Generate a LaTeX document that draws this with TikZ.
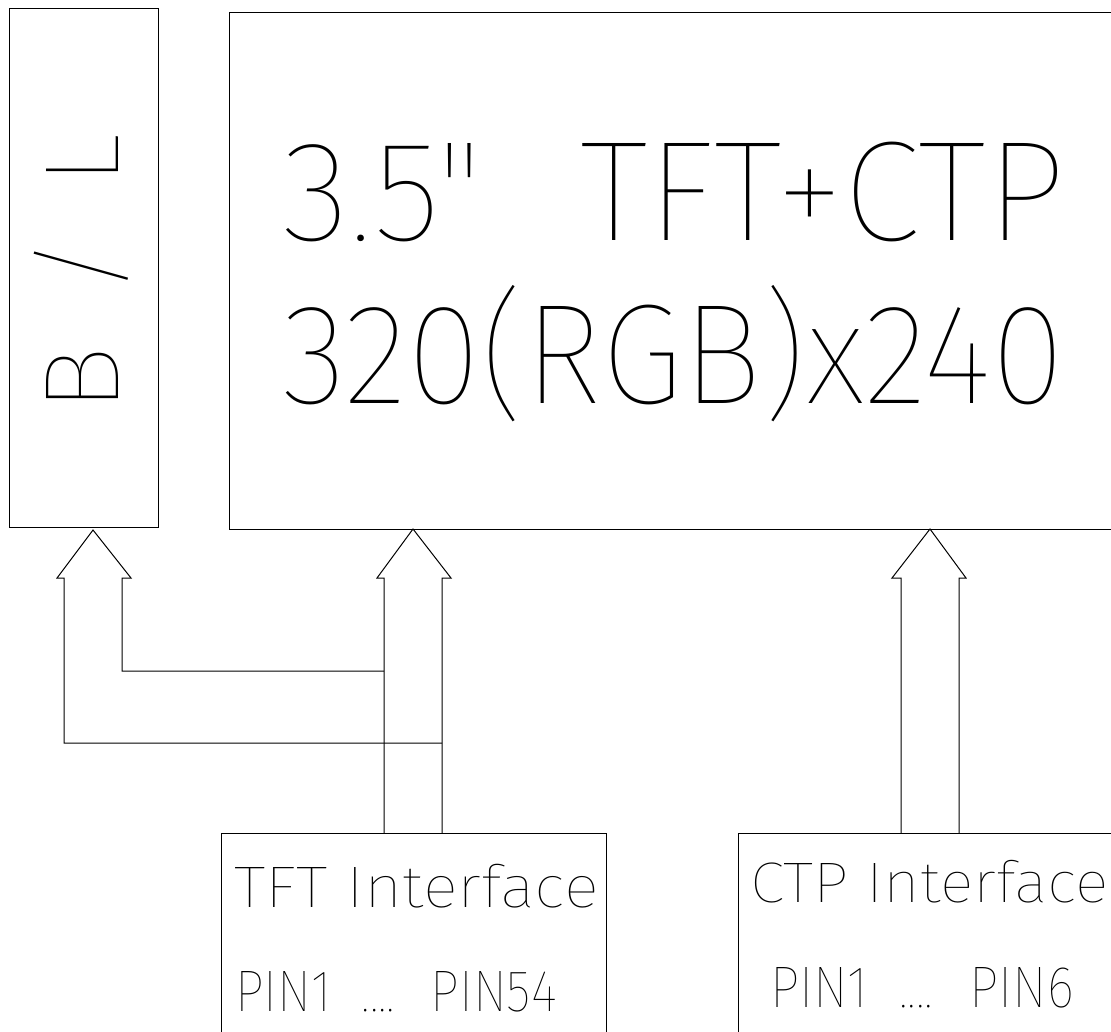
\documentclass[tikz,border=0pt]{standalone}
\usepackage{fontspec}
\IfFontExistsTF{Fira Sans Thin}{\newfontfamily\cad{Fira Sans Thin}}{%
 \IfFontExistsTF{Lato Hairline}{\newfontfamily\cad{Lato Hairline}}{%
  \IfFontExistsTF{DejaVu Sans ExtraLight}{\newfontfamily\cad{DejaVu Sans ExtraLight}}{%
   \newfontfamily\cad{lmmonolt10-regular.otf}}}}
\newsavebox\fitbox
% #1 box width, #2 cap height, #3 text
\newcommand\fitt[3]{\sbox\fitbox{\smash{#3}\rule{0pt}{\fontcharht\font`T}}\resizebox{#1}{#2}{\usebox\fitbox}}
\begin{document}
\begin{tikzpicture}[x=1pt,y=-1pt,line width=1pt,line join=miter,
  box/.style={draw,line width=1pt,inner sep=0pt,outer sep=0pt,anchor=north west},
  txt/.style={inner sep=0pt,outer sep=0pt,anchor=base west,font=\cad\fontsize{40}{40}\selectfont},
  blockarrow/.style={draw,line width=1pt}]
\clip (0,0) rectangle (1111,1032);
% boxes
\node[box,minimum width=149pt,minimum height=518pt] (bl) at (9,9) {};
\node[box,minimum width=901pt,minimum height=516pt] (main) at (229,13) {};
\node[box,minimum width=385pt,minimum height=230pt] (tft) at (221,833) {};
\node[box,minimum width=400pt,minimum height=230pt] (ctp) at (738,833) {};
% texts
\node[txt] (l1) at (282,241) {\fitt{783pt}{97pt}{3.5"\hspace{0.39em} TFT+CTP}};
\node[txt] (l2) at (282,403) {\fitt{783pt}{97pt}{320(RGB)x240}};
\node[txt,rotate=90] (bltext) at (118,412) {\fitt{278pt}{72pt}{B\hspace{0.45em}/\hspace{0.45em}L}};
\node[txt] (t1) at (234,907) {\fitt{365pt}{40pt}{TFT Interface}};
\node[txt] (t2) at (235,1011) {\fitt{322pt}{40pt}{PIN1\hspace{0.3em} ....\hspace{0.3em} PIN54}};
\node[txt] (c1) at (750,902) {\fitt{359pt}{39pt}{CTP Interface}};
\node[txt] (c2) at (770,1007) {\fitt{304pt}{40pt}{PIN1\hspace{0.3em} ....\hspace{0.3em} PIN6}};
% arrow tips and junction points
\coordinate (tipL) at (93,530);
\coordinate (tipM) at (413,529);
\coordinate (tipR) at (930,529);
\coordinate (tftA) at (384,833);
\coordinate (tftB) at (442,833);
\coordinate (ctpA) at (901,833);
\coordinate (ctpB) at (959,833);
\coordinate (jInner) at (384,671);
\coordinate (jOuter) at (442,743);
% B/L arrow
\draw[blockarrow] (jInner) -- (122,671) -- (122,578) -- (131,578) -- (tipL) -- (57,578) -- (64,578) -- (64,743) -- (jOuter);
% TFT arrow
\draw[blockarrow] (tftA) -- (384,578) -- (377,578) -- (tipM) -- (451,578) -- (442,578) -- (tftB);
% CTP arrow
\draw[blockarrow] (ctpA) -- (901,578) -- (892,578) -- (tipR) -- (966,578) -- (959,578) -- (ctpB);
\end{tikzpicture}
\end{document}
